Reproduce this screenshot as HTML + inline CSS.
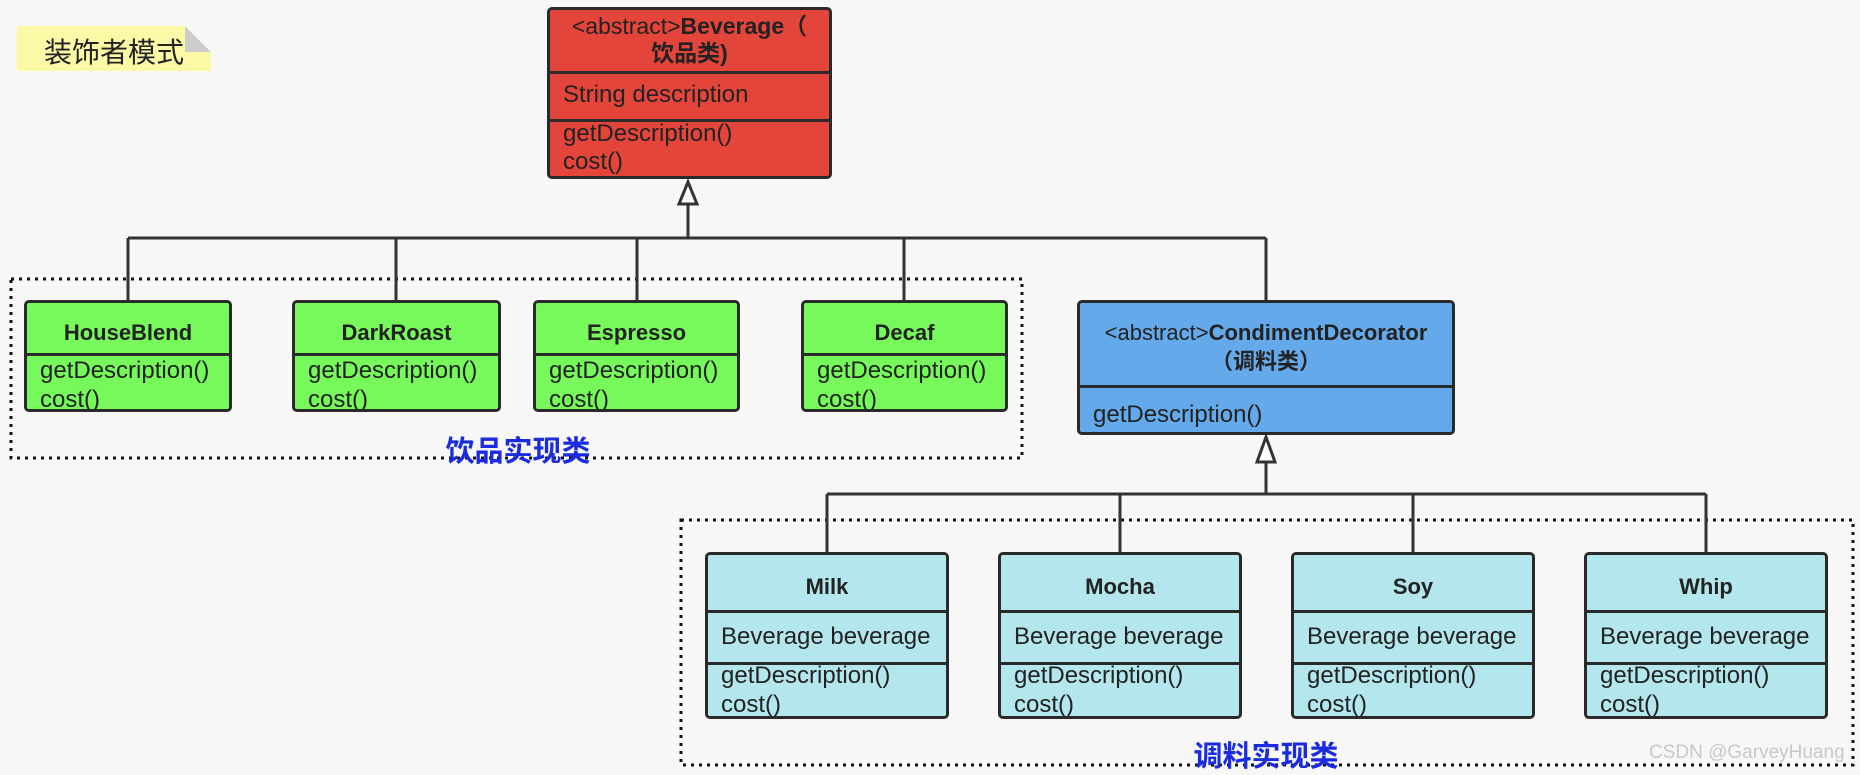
<!DOCTYPE html>
<html><head><meta charset="utf-8"><style>
body{margin:0;width:1860px;height:774px;background:#f7f7f7;position:relative;overflow:hidden;font-family:"Liberation Sans","Noto Sans CJK SC",sans-serif;color:#222}
.b{position:absolute;border:3px solid #2a2a2a;border-radius:5px;box-sizing:border-box;overflow:hidden}
.s{position:absolute;left:0;right:0;border-top:3px solid #2a2a2a;box-sizing:border-box}
.t{position:absolute;font-size:24px;white-space:nowrap;line-height:28px}
.c{left:0;right:0;text-align:center;font-weight:bold;font-size:22px}
.m{left:13px}
.g{background:#77f95c}.r{background:#e4453b}.bl{background:#64aaea}.cy{background:#b3e7ed}
.lab{position:absolute;color:#1a2be0;font-weight:bold;font-size:29px;transform:translateX(-50%)}
</style></head><body>
<svg width="1860" height="774" style="position:absolute;left:0;top:0">
<g fill="none" stroke="#111" stroke-width="3" stroke-dasharray="3 5">
<rect x="11" y="279" width="1011" height="179"/>
<rect x="681" y="520" width="1172" height="245"/>
</g>
<g fill="none" stroke="#333" stroke-width="3">
<path d="M688 204V238M128 238H1266M128 238V300M396 238V300M637 238V300M904 238V300M1266 238V300"/>
<path d="M1266 462V494M827 494H1706M827 494V552M1120 494V552M1413 494V552M1706 494V552"/>
<path d="M688 182L679 204H697Z" fill="#fff"/>
<path d="M1266 437L1257 462H1275Z" fill="#fff"/>
</g>
<rect x="17" y="26" width="194" height="45" fill="#fbf8a6"/>
<path d="M185 26L211 52H185Z" fill="#ccc"/>
<path d="M185 26H211V52Z" fill="#f7f7f7"/>
</svg>
<div class="t" style="left:44px;top:36px;font-size:28px;line-height:34px">装饰者模式</div>

<div class="b r" style="left:547px;top:7px;width:285px;height:172px">
<div class="t c" style="top:2px;font-weight:normal;font-size:23px"><span>&lt;abstract&gt;</span><b>Beverage（</b></div>
<div class="t c" style="top:29px;font-size:23px">饮品类)</div>
<div class="s" style="top:61px"></div>
<div class="t m" style="top:71px">String description</div>
<div class="s" style="top:109px"></div>
<div class="t m" style="top:110px">getDescription()</div>
<div class="t m" style="top:138px">cost()</div>
</div>

<div class="b g" style="left:24px;top:300px;width:208px;height:112px"><div class="t c" style="top:16px">HouseBlend</div><div class="s" style="top:50px"></div><div class="t m" style="top:54px">getDescription()</div><div class="t m" style="top:83px">cost()</div></div>
<div class="b g" style="left:292px;top:300px;width:209px;height:112px"><div class="t c" style="top:16px">DarkRoast</div><div class="s" style="top:50px"></div><div class="t m" style="top:54px">getDescription()</div><div class="t m" style="top:83px">cost()</div></div>
<div class="b g" style="left:533px;top:300px;width:207px;height:112px"><div class="t c" style="top:16px">Espresso</div><div class="s" style="top:50px"></div><div class="t m" style="top:54px">getDescription()</div><div class="t m" style="top:83px">cost()</div></div>
<div class="b g" style="left:801px;top:300px;width:207px;height:112px"><div class="t c" style="top:16px">Decaf</div><div class="s" style="top:50px"></div><div class="t m" style="top:54px">getDescription()</div><div class="t m" style="top:83px">cost()</div></div>
<div class="lab" style="left:518px;top:428px">饮品实现类</div>

<div class="b bl" style="left:1077px;top:300px;width:378px;height:135px">
<div class="t c" style="top:16px;font-weight:normal">&lt;abstract&gt;<b>CondimentDecorator</b></div>
<div class="t c" style="top:45px">（调料类）</div>
<div class="s" style="top:82px"></div>
<div class="t m" style="top:98px">getDescription()</div>
</div>

<div class="b cy" style="left:705px;top:552px;width:244px;height:167px"><div class="t c" style="top:18px">Milk</div><div class="s" style="top:55px"></div><div class="t m" style="top:68px">Beverage beverage</div><div class="s" style="top:107px"></div><div class="t m" style="top:107px">getDescription()</div><div class="t m" style="top:136px">cost()</div></div>
<div class="b cy" style="left:998px;top:552px;width:244px;height:167px"><div class="t c" style="top:18px">Mocha</div><div class="s" style="top:55px"></div><div class="t m" style="top:68px">Beverage beverage</div><div class="s" style="top:107px"></div><div class="t m" style="top:107px">getDescription()</div><div class="t m" style="top:136px">cost()</div></div>
<div class="b cy" style="left:1291px;top:552px;width:244px;height:167px"><div class="t c" style="top:18px">Soy</div><div class="s" style="top:55px"></div><div class="t m" style="top:68px">Beverage beverage</div><div class="s" style="top:107px"></div><div class="t m" style="top:107px">getDescription()</div><div class="t m" style="top:136px">cost()</div></div>
<div class="b cy" style="left:1584px;top:552px;width:244px;height:167px"><div class="t c" style="top:18px">Whip</div><div class="s" style="top:55px"></div><div class="t m" style="top:68px">Beverage beverage</div><div class="s" style="top:107px"></div><div class="t m" style="top:107px">getDescription()</div><div class="t m" style="top:136px">cost()</div></div>
<div class="lab" style="left:1266px;top:733px">调料实现类</div>
<div class="t" style="left:1649px;top:739px;color:#c8c8c8;font-size:19px">CSDN @GarveyHuang</div>
</body></html>
